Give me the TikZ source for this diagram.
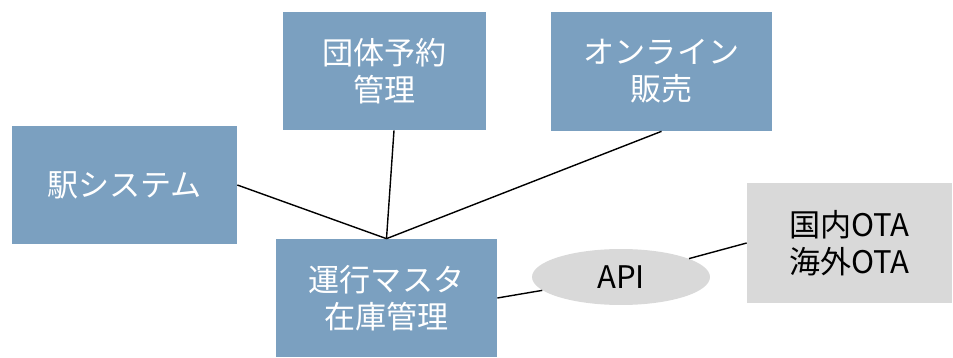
\documentclass[tikz,border=0pt]{standalone}
\usepackage{xcolor}
\usepackage{fontspec}
\setmainfont{Noto Sans CJK JP}
\usepackage{tikz}
\usetikzlibrary{shapes.geometric, positioning, calc}
\definecolor{sysblue}{RGB}{123, 160, 192}
\definecolor{extgray}{RGB}{217, 217, 217}

\begin{document}
\begin{tikzpicture}[x=0.02cm, y=-0.02cm,
    sysbox/.style={fill=sysblue, draw=none, text=white, align=center,
                   font=\fontsize{17.7}{21}\selectfont},
    extbox/.style={fill=extgray, draw=none, text=black, align=center,
                   font=\fontsize{17.7}{21}\selectfont},
    link/.style={draw=black, line width=0.8pt}]
            \useasboundingbox (0,0) rectangle (953,358);
            % systems
            \node[sysbox, minimum width=4.5cm, minimum height=2.36cm] (eki) at (124.5,185) {駅システム};
            \node[sysbox, minimum width=4.06cm, minimum height=2.36cm] (dantai) at (384.5,71) {団体予約\\管理};
            \node[sysbox, minimum width=4.42cm, minimum height=2.38cm] (online) at (661.5,71.5) {オンライン\\販売};
            \node[sysbox, minimum width=4.42cm, minimum height=2.36cm] (unko) at (386.5,298) {運行マスタ\\在庫管理};
            % external
            \node[extbox, minimum width=4.1cm, minimum height=2.4cm] (ota) at (849.5,243) {国内OTA\\海外OTA};
            \node[ellipse, fill=extgray, minimum width=3.56cm, minimum height=1.12cm,
                  font=\fontsize{17.7}{21}\selectfont] (api) at (621,277) {API};
            % connectors
            \draw[link] (unko.north) -- (eki.east);
            \draw[link] (unko.north) -- ([xshift=0.19cm]dantai.south);
            \draw[link] (unko.north) -- (online.south);
            \draw[link] (unko.east) -- (api);
            \draw[link] (api) -- (ota.west);
        \end{tikzpicture}
\end{document}
